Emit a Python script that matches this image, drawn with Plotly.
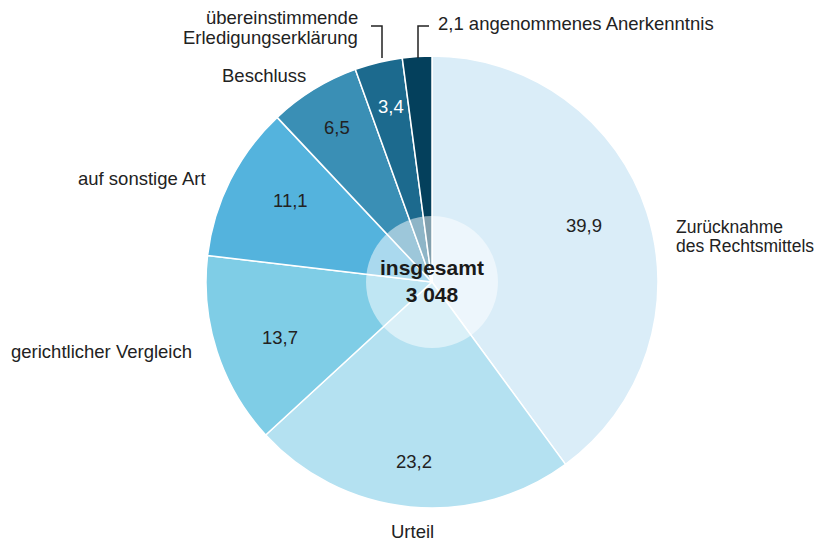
import math

import plotly.graph_objects as go

categories = [
    "Zurücknahme des Rechtsmittels",
    "Urteil",
    "gerichtlicher Vergleich",
    "auf sonstige Art",
    "Beschluss",
    "übereinstimmende Erledigungserklärung",
    "angenommenes Anerkenntnis",
]
shares = [39.9, 23.2, 13.7, 11.1, 6.5, 3.4, 2.1]
total_label = "3 048"
colors = ["#daedf8", "#b4e1f1", "#7fcde6", "#54b3dd", "#3a8fb5", "#1c6a8e", "#04405c"]
value_text_colors = ["#222222"] * 5 + ["#ffffff", "#ffffff"]

# the page body has an 8px margin, so the figure starts at (8, 8)
OFF = 8
W, H = 824 - OFF, 545 - OFF
CX, CY, R = 432, 282, 226
HOLE_R = 66
FONT = "Liberation Sans, Arial, sans-serif"
FS = 18.5


def px(x):
    return (x - OFF) / W


def py(y):
    return 1 - (y - OFF) / H


def fmt(v):
    return f"{v:.1f}".replace(".", ",")


fig = go.Figure(go.Pie(
    labels=categories, values=shares, sort=False, direction="clockwise", rotation=0,
    marker=dict(colors=colors, line=dict(color="white", width=1.5)),
    textinfo="none", hoverinfo="label+value", showlegend=False,
    domain=dict(x=[px(CX - R), px(CX + R)], y=[py(CY + R), py(CY - R)]),
))

annotations = []
total = sum(shares)
cum = 0
for name, v, tc in zip(categories, shares, value_text_colors):
    mid = (cum + v / 2) / total * 2 * math.pi
    cum += v
    if v < 3:
        continue
    x = CX + 0.8 * R * math.sin(mid)
    y = CY - 0.8 * R * math.cos(mid)
    if v < 5:
        x += 2
        y = 106
    annotations.append(dict(x=px(x), y=py(y), text=fmt(v), showarrow=False, yanchor="middle",
                            font=dict(size=FS, color=tc)))

outer = [
    (674, 227, "left", "Zurücknahme", 17.5),
    (674, 246, "left", "des Rechtsmittels", 17.5),
    (412, 531, "center", "Urteil", FS),
    (194, 351, "right", "gerichtlicher Vergleich", FS),
    (208, 178, "right", "auf sonstige Art", FS),
    (308, 76, "right", "Beschluss", FS),
    (360, 17, "right", "übereinstimmende", FS),
    (360, 37, "right", "Erledigungserklärung", FS),
    (436, 23, "left", fmt(shares[6]) + " angenommenes Anerkenntnis", FS),
]
for x, y, anchor, text, size in outer:
    annotations.append(dict(x=px(x), y=py(y), text=text, showarrow=False, xanchor=anchor,
                            yanchor="middle", align=anchor, font=dict(size=size, color="#222222")))

annotations.append(dict(x=px(CX), y=py(CY - 1), text="<b>insgesamt<br>" + total_label + "</b>",
                        showarrow=False, yanchor="middle", font=dict(size=21, color="#1a1a1a")))

shapes = [
    dict(type="circle", xref="paper", yref="paper", layer="above",
         x0=px(CX - HOLE_R), x1=px(CX + HOLE_R), y0=py(CY + HOLE_R), y1=py(CY - HOLE_R),
         fillcolor="rgba(255,255,255,0.5)", line=dict(width=0)),
    dict(type="path", xref="paper", yref="paper",
         path=f"M {px(382)} {py(58)} L {px(382)} {py(26)} L {px(371)} {py(26)}",
         line=dict(color="#222222", width=1.5)),
    dict(type="path", xref="paper", yref="paper",
         path=f"M {px(418)} {py(58)} L {px(418)} {py(26)} L {px(429)} {py(26)}",
         line=dict(color="#222222", width=1.5)),
]

fig.update_layout(
    width=W, height=H, margin=dict(l=0, r=0, t=0, b=0),
    paper_bgcolor="white", plot_bgcolor="white",
    font=dict(family=FONT, size=FS, color="#222222"),
    annotations=annotations, shapes=shapes,
)

fig.write_html("out.html")
